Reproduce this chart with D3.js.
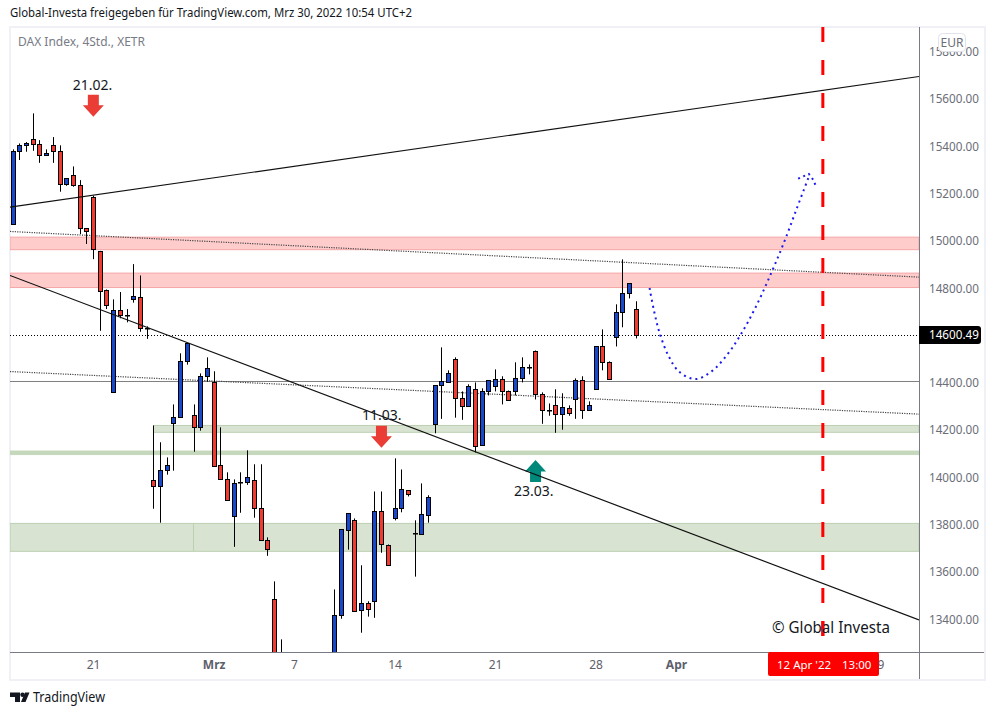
<!DOCTYPE html>
<html lang="en">
<head>
<meta charset="utf-8">
<title>DAX Index, 4Std., XETR</title>
<script src="https://d3js.org/d3.v7.min.js"></script>
<style>
  html, body { margin: 0; padding: 0; background: #fff; }
  svg { display: block; }
  text { font-family: "Noto Sans", "Open Sans", sans-serif; }
</style>
</head>
<body>
<div id="chart"></div>
<script>
// 4h candles, index = bar number. null = bar falls below the visible range
const opens = [15071,15377,15402,15427,15406,15360,15402,15377,15237,15275,15233,15051,15182,14956,14789,14359,14704,14686,14751,14760,14629,13986,13961,14028,14227,14252,14489,14261,14210,14426,14400,14049,13990,13834,13977,13978,13986,13868,13732,13483,13180,null,null,null,null,null,null,null,13150,13416,13775,13817,13435,13466,13475,13855,13711,13825,13868,13944,13764,13758,13838,14223,14388,14401,14497,14333,14299,14371,14134,14362,14383,14413,14362,14362,14417,14467,14531,14349,14283,14303,14265,14290,14328,14409,14282,14371,14552,14485,14590,14696,14776,14709];
const highs = [15385,15410,15416,15537,15424,15385,15437,15402,15262,15313,15255,15051,15189,14956,14793,14751,14782,14710,14900,14852,14637,14218,14147,14083,14307,14523,14565,14307,14438,14506,14447,14210,14020,13990,14020,14113,14054,14054,13745,13559,13314,null,null,null,null,null,null,null,13525,13779,13847,13825,13627,13475,13939,13939,13715,14079,14032,13944,13817,13973,13923,14388,14548,14451,14506,14362,14392,14400,14375,14409,14455,14426,14366,14485,14506,14476,14535,14358,14311,14371,14354,14303,14417,14426,14320,14552,14624,14489,14730,14920,14819,14743];
const lows = [15066,15340,15375,15379,15328,15358,15328,15206,15231,15227,15027,14985,14921,14618,14710,14355,14671,14654,14737,14614,14584,13866,13807,14010,14027,14252,14475,14107,14196,14403,14045,13990,13901,13705,13849,13967,13828,13732,13667,13120,13000,null,null,null,null,null,null,null,13100,13401,13693,13432,13342,13410,13405,13680,13627,13817,13851,13918,13579,13758,13807,14185,14246,14399,14251,14242,14299,14104,14134,14345,14362,14307,14324,14345,14400,14434,14328,14225,14259,14187,14200,14259,14246,14246,14282,14371,14451,14413,14552,14633,14755,14586];
const closes = [15378,15402,15410,15406,15360,15368,15377,15237,15262,15233,15051,15038,14962,14789,14726,14704,14682,14684,14764,14628,14627,13961,14028,14049,14252,14489,14565,14210,14426,14459,14045,13990,13901,13973,13975,13999,13868,13732,13694,13142,13090,null,null,null,null,null,null,null,13416,13779,13847,13432,13466,13441,13855,13716,13627,13868,13948,13927,13762,13842,13914,14388,14404,14438,14333,14299,14383,14130,14362,14409,14413,14362,14324,14417,14464,14465,14349,14282,14281,14265,14295,14269,14409,14282,14303,14552,14485,14413,14696,14776,14819,14600];

// price axis and time axis
const priceTicks = [13400,13600,13800,14000,14200,14400,14600,14800,15000,15200,15400,15600,15800];
const timeTickBars = [12,30,42,57,72,87,99,129];
const timeTickLabels = ["21","Mrz","7","14","21","28","Apr","19"];
const boldLabels = ["Mrz","Apr"];

// support / resistance zones
const zoneTops = [15014,14862,14218,14110,13804];
const zoneBottoms = [14961,14801,14189,14095,13686];
const zoneStarts = [-0.47,-0.47,20.94,-0.47,-0.47];
const zoneKinds = ["red","red","green","strip","green"];

// drawn lines: start price, end price
const leftBar = -0.47, rightBar = 135.2;
const solidStart = [15141,14852], solidEnd = [15693,13396];
const dottedStart = [15038,14446], dottedEnd = [14845,14266];
const levelPrice = 14405, lastPrice = 14600.49;

// forecast path
const pathBars = [94.99,95.67,96.57,97.91,99.4,101.79,104.18,106.63,108.61,110.75,112.99,115.07,116.97,118.87];
const pathPrices = [14799,14700,14601,14507,14445,14414,14445,14519,14603,14714,14852,14993,15136,15278];
const headBars = [117.16,118.76,119.4,119.75];
const headPrices = [15261,15281,15257,15234];

// arrows
const arrowBars = [12,55,78];
const arrowTips = [15523,14124,14072];
const arrowDirs = ["down","down","up"];
const arrowTexts = ["21.02.","11.03.","23.03."];

const dateBar = 120.85;

const width = 995, height = 715;
const plot = { left: 10, right: 919, top: 27, bottom: 652 };

const svg = d3.select("#chart").append("svg")
  .attr("width", width).attr("height", height);

const x = d3.scaleLinear().domain([0, 100]).range([13.15, 683.15]);
const y = d3.scaleLinear().domain([13400, 15600]).range([619, 98.5]);
const snap = v => Math.floor(v) + 0.5;

// header
svg.append("text").attr("x", 10).attr("y", 17)
  .attr("font-size", 12.5).attr("fill", "#131722")
  .attr("textLength", 402).attr("lengthAdjust", "spacingAndGlyphs")
  .text("Global-Investa freigegeben für TradingView.com, Mrz 30, 2022 10:54 UTC+2");

// panel frame
svg.append("rect").attr("x", 10).attr("y", 27).attr("width", 975).attr("height", 653)
  .attr("fill", "#fff").attr("stroke", "#f0f1f7").attr("stroke-width", 2);

svg.append("defs").append("clipPath").attr("id", "plot-clip").append("rect")
  .attr("x", plot.left).attr("y", plot.top)
  .attr("width", plot.right - plot.left).attr("height", plot.bottom - plot.top);

const g = svg.append("g").attr("clip-path", "url(#plot-clip)");

// zones
const zoneFill = { red: "#ffcccc", green: "#d8e4d1", strip: "#c6d8bc" };
const zoneEdge = { red: "#f5a6a6", green: "#bcd0b2", strip: "#c6d8bc" };
zoneTops.forEach((top, i) => {
  g.append("rect")
    .attr("x", x(zoneStarts[i])).attr("y", y(top))
    .attr("width", x(rightBar) - x(zoneStarts[i]))
    .attr("height", y(zoneBottoms[i]) - y(top))
    .attr("fill", zoneFill[zoneKinds[i]])
    .attr("stroke", zoneEdge[zoneKinds[i]]);
});
// seam in the lower green zone
g.append("line")
  .attr("x1", snap(x(26.9))).attr("x2", snap(x(26.9)))
  .attr("y1", y(13804)).attr("y2", y(13686))
  .attr("stroke", "#bcd0b2");

// level lines
g.append("line").attr("x1", plot.left).attr("x2", plot.right)
  .attr("y1", Math.round(y(levelPrice)) + 0.5).attr("y2", Math.round(y(levelPrice)) + 0.5)
  .attr("stroke", "#808080");
g.append("line").attr("x1", plot.left).attr("x2", plot.right)
  .attr("y1", Math.round(y(lastPrice)) + 0.5).attr("y2", Math.round(y(lastPrice)) + 0.5)
  .attr("stroke", "#000").attr("stroke-dasharray", "1 2");

dottedStart.forEach((p, i) => {
  g.append("line")
    .attr("x1", x(leftBar)).attr("x2", x(rightBar))
    .attr("y1", y(p)).attr("y2", y(dottedEnd[i]))
    .attr("stroke", "#444").attr("stroke-width", 1.2).attr("stroke-dasharray", "1.2 1.2");
});

// arrows, drawn relative to the tip
const arrowPath = "M0,0 L-10.5,-11.5 L-5.5,-11.5 L-5.5,-22 L5.5,-22 L5.5,-11.5 L10.5,-11.5 Z";
const arrowColor = { down: "#ea3d35", up: "#00897b" };
arrowBars.forEach((bar, i) => {
  const dir = arrowDirs[i];
  g.append("path")
    .attr("d", arrowPath)
    .attr("fill", arrowColor[dir])
    .attr("transform", `translate(${x(bar) - 0.2},${y(arrowTips[i])})` + (dir === "up" ? " scale(1,-1)" : ""));
});

// candles
const bars = d3.range(opens.length).filter(i => opens[i] !== null);
const candle = g.append("g").selectAll("g").data(bars).join("g");

candle.append("line")
  .attr("x1", i => snap(x(i))).attr("x2", i => snap(x(i)))
  .attr("y1", i => y(highs[i])).attr("y2", i => y(lows[i]))
  .attr("stroke", "#000");

candle.append("rect")
  .attr("x", i => snap(x(i)) - 2)
  .attr("width", 4)
  .attr("y", i => Math.round(y(Math.max(opens[i], closes[i]))) + 0.5)
  .attr("height", i => Math.max(Math.round(Math.abs(y(opens[i]) - y(closes[i]))), 0.5))
  .attr("fill", i => closes[i] > opens[i] ? "#1848cc" : "#f23b30")
  .attr("stroke", "#000");

// trend lines
solidStart.forEach((p, i) => {
  g.append("line")
    .attr("x1", x(leftBar)).attr("x2", x(rightBar))
    .attr("y1", y(p)).attr("y2", y(solidEnd[i]))
    .attr("stroke", "#111").attr("stroke-width", 1.2);
});

// forecast curve
const pathLine = d3.line().curve(d3.curveCatmullRom.alpha(0.5))
  .x(i => x(pathBars[i])).y(i => y(pathPrices[i]));
g.append("path")
  .attr("d", pathLine(d3.range(pathBars.length)))
  .attr("fill", "none").attr("stroke", "#1a1aee")
  .attr("stroke-width", 2).attr("stroke-dasharray", "2 4");
const headLine = d3.line().x(i => x(headBars[i])).y(i => y(headPrices[i]));
g.append("path")
  .attr("d", headLine(d3.range(headBars.length)))
  .attr("fill", "none").attr("stroke", "#1a1aee")
  .attr("stroke-width", 2).attr("stroke-dasharray", "2 3.6");

// date marker
g.append("line")
  .attr("x1", x(dateBar)).attr("x2", x(dateBar))
  .attr("y1", plot.top).attr("y2", 636)
  .attr("stroke", "#ff0000").attr("stroke-width", 3).attr("stroke-dasharray", "15 18");

// arrow labels
const labelY = [90, 420, 496];
const labelDx = [-1, 0, -2];
arrowTexts.forEach((t, i) => {
  svg.append("text")
    .attr("x", x(arrowBars[i]) + labelDx[i]).attr("y", labelY[i])
    .attr("text-anchor", "middle").attr("font-size", 14).attr("fill", "#131722")
    .text(t);
});

svg.append("text").attr("x", 18).attr("y", 46)
  .attr("font-size", 12).attr("fill", "#787b86").text("DAX Index, 4Std., XETR");

svg.append("text").attr("x", 772).attr("y", 633)
  .attr("font-size", 16).attr("fill", "#131722")
  .attr("textLength", 118).attr("lengthAdjust", "spacingAndGlyphs")
  .text("© Global Investa");
// marker runs over the watermark
g.append("rect").attr("x", x(dateBar) - 1.5).attr("y", 621)
  .attr("width", 3).attr("height", 15).attr("fill", "#ff0000");

// axes
const yAxis = d3.axisRight(y).tickValues(priceTicks).tickFormat(d3.format(".2f"))
  .tickSize(0).tickPadding(10);
const yG = svg.append("g").attr("transform", `translate(${plot.right},0.5)`).call(yAxis);
yG.select(".domain").remove();
yG.selectAll("text").attr("font-size", 11.7).attr("fill", "#6a6d78")
  .style("font-family", '"Noto Sans", sans-serif');

const xAxis = d3.axisBottom(x).tickValues(timeTickBars)
  .tickFormat((d, i) => timeTickLabels[i]).tickSize(0).tickPadding(8);
const xG = svg.append("g").attr("transform", `translate(-0.5,${plot.bottom})`).call(xAxis);
xG.select(".domain").remove();
xG.selectAll("text").attr("font-size", 12).attr("fill", "#5d606b")
  .style("font-family", '"Noto Sans", sans-serif')
  .attr("font-weight", d => boldLabels.includes(timeTickLabels[timeTickBars.indexOf(d)]) ? "bold" : "normal");

svg.append("line").attr("x1", 10).attr("x2", 984).attr("y1", 652.5).attr("y2", 652.5).attr("stroke", "#787b86");
svg.append("line").attr("x1", 919.5).attr("x2", 919.5).attr("y1", 27).attr("y2", 679).attr("stroke", "#787b86");

// currency badge
svg.append("rect").attr("x", 938.5).attr("y", 33.5).attr("width", 27).attr("height", 18).attr("rx", 4)
  .attr("fill", "#fff").attr("stroke", "#e0e3eb");
svg.append("text").attr("x", 952).attr("y", 47).attr("text-anchor", "middle")
  .attr("font-size", 12).attr("fill", "#6a6d78").text("EUR");

// last price label
svg.append("path")
  .attr("d", `M919,${y(lastPrice) - 9} H978 Q981,${y(lastPrice) - 9} 981,${y(lastPrice) - 6} V${y(lastPrice) + 6} Q981,${y(lastPrice) + 9} 978,${y(lastPrice) + 9} H919 Z`)
  .attr("fill", "#000");
svg.append("text").attr("x", 929).attr("y", y(lastPrice) + 4.5)
  .attr("font-size", 11.7).attr("fill", "#fff").text(d3.format(".2f")(lastPrice));

// date label
svg.append("rect").attr("x", 768).attr("y", 652).attr("width", 111).attr("height", 24).attr("rx", 2).attr("fill", "#ff0000");
svg.append("text").attr("x", 777).attr("y", 669).attr("font-size", 11.5).attr("fill", "#fff").text("12 Apr '22");
svg.append("text").attr("x", 842).attr("y", 669).attr("font-size", 11.5).attr("fill", "#fff").text("13:00");

// footer logo
svg.append("path")
  .attr("d", "M10,692.5 H20 V702 H15 V697 H10 Z M25,692.5 H29.5 L25.5,702 H21 Z")
  .attr("fill", "#131722");
svg.append("circle").attr("cx", 22.5).attr("cy", 694.7).attr("r", 2.2).attr("fill", "#131722");
svg.append("text").attr("x", 33).attr("y", 702)
  .attr("font-size", 13.5).attr("fill", "#131722")
  .attr("textLength", 72).attr("lengthAdjust", "spacingAndGlyphs")
  .text("TradingView");
</script>
</body>
</html>
